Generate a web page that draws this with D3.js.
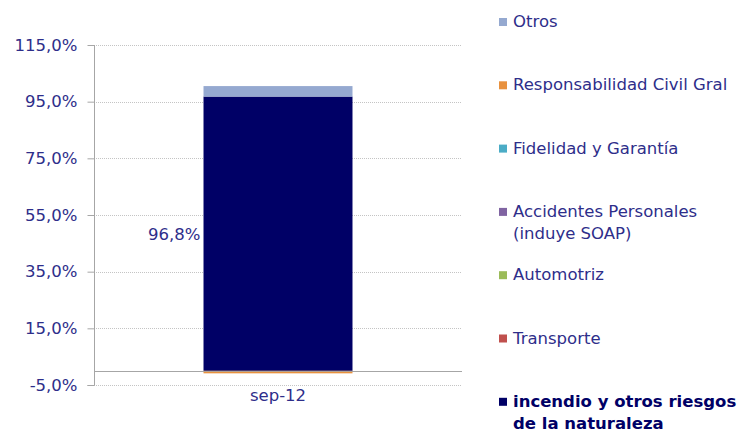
<!DOCTYPE html>
<html>
<head>
<meta charset="utf-8">
<script src="https://cdn.jsdelivr.net/npm/d3@7"></script>
<style>
  body { margin: 0; background: #fff; }
  svg { font-family: Verdana, "DejaVu Sans", sans-serif; }
</style>
</head>
<body>
<svg id="chart" width="743" height="433"></svg>
<script>
// data (percent of total, sep-12)
const categories = ['sep-12']
const seriesNames = [
  'incendio y otros riesgos de la naturaleza',
  'Transporte',
  'Automotriz',
  'Accidentes Personales (induye SOAP)',
  'Fidelidad y Garantía',
  'Responsabilidad Civil Gral',
  'Otros',
]
const seriesValues = [96.8, 0, 0, 0, 0, -0.3, 3.7]
const seriesColors = ['#000066', '#C0504D', '#9BBB59', '#8064A2', '#4BACC6', '#E8913E', '#95A9D0']
const tickValues = [-5, 15, 35, 55, 75, 95, 115]

// legend rows, top to bottom
const legendLines = [
  ['Otros'],
  ['Responsabilidad Civil Gral'],
  ['Fidelidad y Garantía'],
  ['Accidentes Personales', '(induye SOAP)'],
  ['Automotriz'],
  ['Transporte'],
  ['incendio y otros riesgos', 'de la naturaleza'],
]

window.addEventListener('load', makeChart)
function makeChart() {
  const svg = d3.select('#chart')
  const textColor = '#2E2E8A'
  const fs = '16.5px'
  const fmt = (d) => d3.format('.1f')(d).replace('.', ',').replace('\u2212', '-') + '%'

  const scY = d3.scaleLinear().domain([-5, 115]).range([385, 45])
  const scX = d3.scaleBand().domain(categories).range([94, 462]).paddingInner(0).paddingOuter(0.735)

  // dotted gridlines
  svg
    .append('g')
    .selectAll('line')
    .data(tickValues)
    .enter()
    .append('line')
    .attr('x1', 96)
    .attr('x2', 462)
    .attr('y1', (d) => Math.round(scY(d)) + 0.5)
    .attr('y2', (d) => Math.round(scY(d)) + 0.5)
    .attr('stroke', '#C4C4C4')
    .attr('stroke-dasharray', '1,1')

  // stacked bar
  const row = { cat: categories[0] }
  seriesNames.forEach((s, i) => (row[s] = seriesValues[i]))
  const stacked = d3.stack().keys(seriesNames).offset(d3.stackOffsetDiverging)([row])

  svg
    .append('g')
    .selectAll('rect')
    .data(stacked)
    .enter()
    .append('rect')
    .attr('x', scX(categories[0]))
    .attr('width', scX.bandwidth())
    .attr('y', (d) => scY(Math.max(d[0][0], d[0][1])))
    .attr('height', (d) => Math.abs(scY(d[0][0]) - scY(d[0][1])))
    .attr('fill', (d, i) => seriesColors[i])

  // y axis
  const yAxis = d3.axisLeft(scY).tickValues(tickValues).tickSize(7).tickFormat(fmt)
  const gy = svg.append('g').attr('transform', 'translate(94.5,0)').call(yAxis)
  gy.select('.domain').attr('stroke', '#A6A6A6').attr('d', 'M-7,' + (scY(-5) + 0.5) + 'H0V' + scY(115))
  gy.selectAll('.tick line').attr('stroke', '#A6A6A6')
  gy.selectAll('.tick text')
    .attr('x', -17)
    .attr('fill', textColor)
    .style('font-size', fs)
    .style('font-family', 'Verdana, "DejaVu Sans", sans-serif')

  // baseline at 0
  svg
    .append('line')
    .attr('x1', 94)
    .attr('x2', 462)
    .attr('y1', Math.round(scY(0)) + 0.5)
    .attr('y2', Math.round(scY(0)) + 0.5)
    .attr('stroke', '#A6A6A6')

  // redraw the small negative slice over the baseline
  svg
    .append('rect')
    .datum(stacked[5])
    .attr('x', scX(categories[0]))
    .attr('width', scX.bandwidth())
    .attr('y', (d) => scY(d[0][1]) + 1)
    .attr('height', 1.5)
    .attr('fill', seriesColors[5])

  // category label
  svg
    .append('text')
    .attr('x', scX(categories[0]) + scX.bandwidth() / 2)
    .attr('y', 401)
    .attr('text-anchor', 'middle')
    .attr('fill', textColor)
    .style('font-size', fs)
    .text(categories[0])

  // value label for incendio
  svg
    .append('text')
    .attr('x', scX(categories[0]) - 3)
    .attr('y', scY(seriesValues[0] / 2) + 6)
    .attr('text-anchor', 'end')
    .attr('fill', textColor)
    .style('font-size', fs)
    .text(fmt(seriesValues[0]))

  // legend
  const legendColors = seriesColors.slice().reverse()
  const lg = svg
    .append('g')
    .selectAll('g')
    .data(legendLines)
    .enter()
    .append('g')
    .attr('transform', (d, i) => 'translate(499,' + (27 + 63.3 * i) + ')')

  lg.append('rect')
    .attr('x', 0)
    .attr('y', -9)
    .attr('width', 8)
    .attr('height', 8)
    .attr('fill', (d, i) => legendColors[i])

  lg.append('text')
    .attr('fill', (d, i) => (i === 6 ? '#000066' : textColor))
    .style('font-size', fs)
    .style('font-weight', (d, i) => (i === 6 ? 'bold' : 'normal'))
    .selectAll('tspan')
    .data((d) => d)
    .enter()
    .append('tspan')
    .attr('x', 14)
    .attr('dy', (d, j) => (j === 0 ? 0 : 22))
    .text((d) => d)
}
</script>
</body>
</html>
